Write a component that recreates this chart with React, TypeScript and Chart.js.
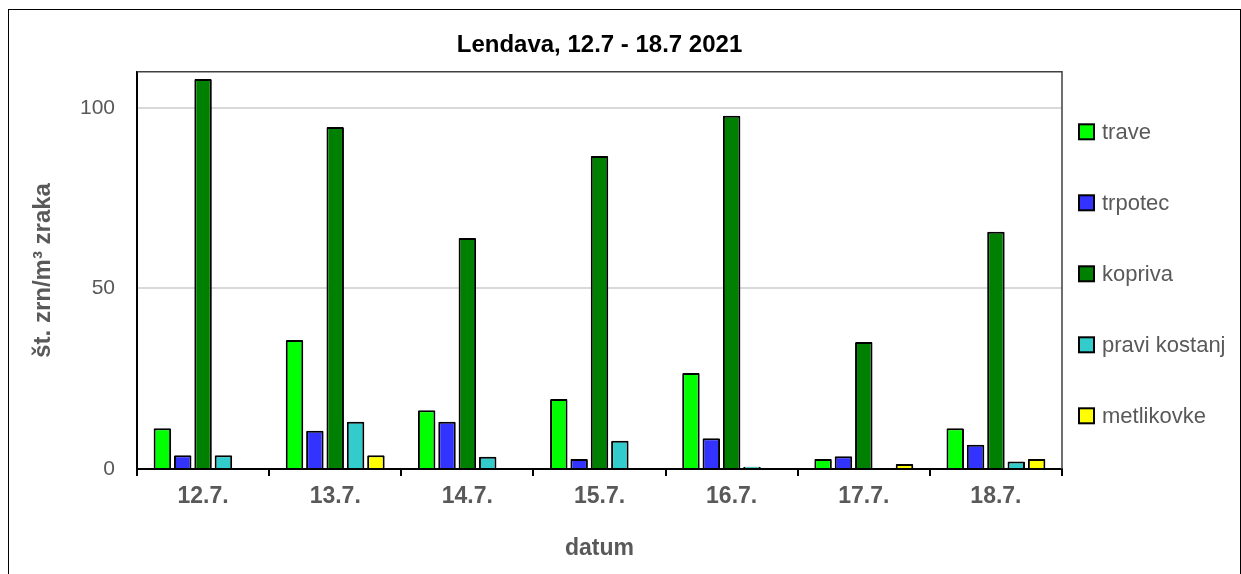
import React, { useEffect, useRef } from "react";
import { Chart, registerables } from "chart.js";

Chart.register(...registerables);

const categories = ["12.7.", "13.7.", "14.7.", "15.7.", "16.7.", "17.7.", "18.7."];
const seriesNames = ["trave", "trpotec", "kopriva", "pravi kostanj", "metlikovke"];
const trave = [11.3, 35.7, 16.3, 19.4, 26.6, 2.8, 11.3];
const trpotec = [3.8, 10.6, 13.1, 2.8, 8.5, 3.5, 6.7];
const kopriva = [108, 94.7, 64, 86.7, 97.8, 35.2, 65.7];
const praviKostanj = [3.8, 13.1, 3.4, 7.8, 0.65, 0, 2.1];
const metlikovke = [0, 3.8, 0, 0, 0, 1.4, 2.8];
const seriesColors = ["#00FF00", "#3333FF", "#008000", "#33CCCC", "#FFFF00"];
const yTicks = [0, 50, 100];
const chartTitle = "Lendava, 12.7 - 18.7 2021";
const yTitle = "št. zrn/m³ zraka";
const xTitle = "datum";

const FONT = "'Liberation Sans', Arial, sans-serif";

const framePlugin = {
  id: "plotFrame",
  beforeDatasetsDraw(chart: any) {
    const { ctx, chartArea: a } = chart;
    ctx.save();
    ctx.strokeStyle = "#404040";
    ctx.lineWidth = 1.5;
    ctx.beginPath();
    ctx.moveTo(a.left, a.top);
    ctx.lineTo(a.right, a.top);
    ctx.lineTo(a.right, a.bottom);
    ctx.stroke();
    ctx.restore();
  },
};

const legendPlugin = {
  id: "sideLegend",
  afterDraw(chart: any) {
    const { ctx, chartArea: a } = chart;
    const x0 = a.right + 16;
    ctx.save();
    ctx.font = `22px ${FONT}`;
    ctx.textBaseline = "middle";
    ctx.textAlign = "left";
    chart.data.datasets.forEach((ds: any, i: number) => {
      const cy = a.top + 60 + i * 71;
      ctx.fillStyle = ds.backgroundColor;
      ctx.fillRect(x0 + 1, cy - 7.5, 15, 15);
      ctx.strokeStyle = "#000";
      ctx.lineWidth = 2;
      ctx.strokeRect(x0 + 1, cy - 7.5, 15, 15);
      ctx.fillStyle = "#595959";
      ctx.fillText(ds.label, x0 + 24, cy + 1);
    });
    ctx.restore();
  },
};

export default function App() {
  const canvasRef = useRef<HTMLCanvasElement | null>(null);

  useEffect(() => {
    if (!canvasRef.current) return;
    Chart.defaults.font.family = FONT;
    const values = [trave, trpotec, kopriva, praviKostanj, metlikovke];
    const chart = new Chart(canvasRef.current, {
      type: "bar",
      data: {
        labels: categories,
        datasets: seriesNames.map((name, i) => ({
          label: name,
          data: values[i],
          backgroundColor: seriesColors[i],
          borderColor: "#000000",
          borderWidth: 2,
          borderRadius: 1,
          borderSkipped: "start",
          categoryPercentage: 0.77,
          barPercentage: 0.86,
        })),
      },
      options: {
        animation: false,
        responsive: false,
        layout: { padding: { left: 0, right: 178, top: 0, bottom: 0 } },
        plugins: {
          legend: { display: false },
          tooltip: { enabled: false },
          title: {
            display: true,
            text: chartTitle,
            fullSize: false,
            color: "#000000",
            font: { size: 24, weight: "bold" },
            padding: { top: 21, bottom: 12 },
          },
        },
        scales: {
          x: {
            grid: {
              display: true,
              drawOnChartArea: false,
              drawTicks: true,
              tickLength: 7,
              color: "#000000",
              lineWidth: 2,
              offset: true,
            },
            border: { display: true, color: "#000000", width: 2 },
            ticks: { color: "#595959", font: { size: 23, weight: "bold" }, padding: 7 },
            title: {
              display: true,
              text: xTitle,
              color: "#595959",
              font: { size: 23, weight: "bold" },
              padding: { top: 0, bottom: 13 },
            },
            afterFit: (s: any) => {
              s.height = 106;
            },
          },
          y: {
            min: 0,
            max: 110,
            grid: { color: "#d9d9d9", lineWidth: 2, drawTicks: false },
            border: { display: true, color: "#000000", width: 2 },
            ticks: { color: "#595959", font: { size: 21 }, padding: 22 },
            afterBuildTicks: (s: any) => {
              s.ticks = yTicks.map((v) => ({ value: v }));
            },
            title: {
              display: true,
              text: yTitle,
              color: "#595959",
              font: { size: 24, weight: "bold" },
              padding: { top: 20, bottom: 0 },
            },
            afterFit: (s: any) => {
              s.width = 128;
            },
          },
        },
      } as any,
      plugins: [framePlugin, legendPlugin],
    });
    return () => chart.destroy();
  }, []);

  return (
    <div
      style={{
        position: "absolute",
        left: 8,
        top: 9,
        width: 1233,
        height: 600,
        border: "1px solid #000",
        boxSizing: "border-box",
        background: "#fff",
      }}
    >
      <canvas ref={canvasRef} width={1231} height={565} style={{ display: "block" }} />
    </div>
  );
}
